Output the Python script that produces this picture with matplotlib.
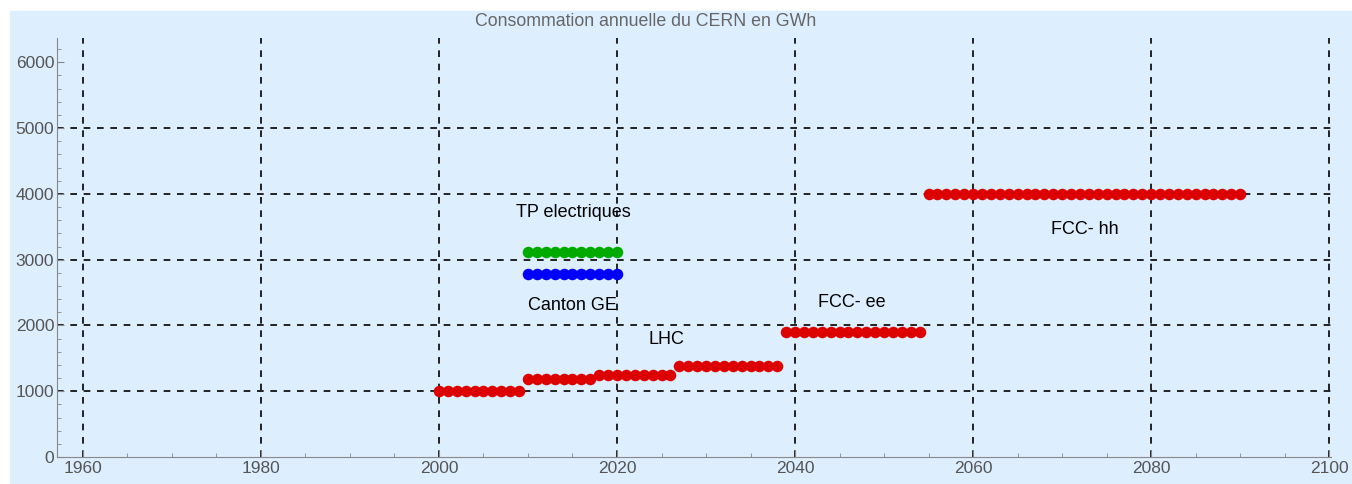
import matplotlib.pyplot as plt
from matplotlib.patches import Rectangle
from matplotlib.ticker import MultipleLocator

plt.rcParams['font.family'] = ['Liberation Sans', 'DejaVu Sans']

# CERN yearly consumption in GWh, one segment per project phase
red_years = [range(2000, 2010), range(2010, 2018), range(2018, 2027),
             range(2027, 2039), range(2039, 2055), range(2055, 2091)]
red_values = [1000, 1190, 1250, 1390, 1900, 4000]

tp_years = range(2010, 2021)
tp_value = 3120          # TP electriques
ge_years = range(2010, 2021)
ge_value = 2780          # Canton GE

labels = ["TP electriques", "Canton GE", "LHC", "FCC- ee", "FCC- hh"]
label_x = [2015.1, 2015.0, 2025.6, 2046.4, 2072.6]
label_y = [3710, 2310, 1780, 2355, 3465]

bg = '#ddeeff'
fig = plt.figure(figsize=(13.52, 4.84), dpi=100)
fig.patches.append(Rectangle((10/1352, 0), 1, 1 - 11/484, transform=fig.transFigure,
                             color=bg, zorder=-10))
ax = fig.add_axes([57/1352, 1 - 457/484, (1331 - 57)/1352, (457 - 38)/484])
ax.set_facecolor(bg)
ax.patch.set_alpha(0)

for yrs, v in zip(red_years, red_values):
    ax.plot(list(yrs), [v]*len(yrs), 'o', color='#dd0000', ms=8.3, mew=0, zorder=3)
ax.plot(list(tp_years), [tp_value]*len(tp_years), 'o', color='#00aa00', ms=8.3, mew=0, zorder=3)
ax.plot(list(ge_years), [ge_value]*len(ge_years), 'o', color='#0000ff', ms=8.3, mew=0, zorder=3)

for t, x, y in zip(labels, label_x, label_y):
    ax.text(x, y, t, ha='center', va='center', fontsize=13, color='black')

ax.set_xlim(1957.1, 2100.2)
ax.set_ylim(0, 6370)

# dashed grid like Mathematica GridLines
for gx in range(1960, 2101, 20):
    ax.axvline(gx, color='black', ls=(0, (4, 4)), lw=1.2, zorder=1)
for gy in range(1000, 5001, 1000):
    ax.axhline(gy, color='black', ls=(0, (4, 4)), lw=1.2, zorder=1)

for s in ['top', 'right']:
    ax.spines[s].set_visible(False)
for s in ['left', 'bottom']:
    ax.spines[s].set_color('#888888')
ax.xaxis.set_major_locator(MultipleLocator(20))
ax.xaxis.set_minor_locator(MultipleLocator(5))
ax.yaxis.set_major_locator(MultipleLocator(1000))
ax.yaxis.set_minor_locator(MultipleLocator(200))
ax.tick_params(which='both', direction='in', color='#888888', labelcolor='#555555',
               labelsize=12.5)
ax.tick_params(axis='x', pad=3)
ax.tick_params(axis='y', pad=2)
ax.tick_params(which='major', length=5)
ax.tick_params(which='minor', length=3)

fig.text(646/1352, 1 - 22/484, "Consommation annuelle du CERN en GWh",
         ha='center', va='center', fontsize=12.8, color='#666666')

fig.savefig('out.png', dpi=100)
